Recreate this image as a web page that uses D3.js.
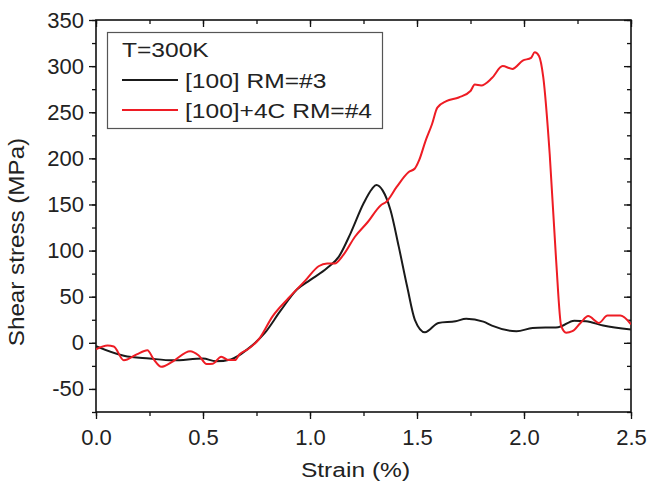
<!DOCTYPE html>
<html>
<head>
<meta charset="utf-8">
<script src="https://cdn.jsdelivr.net/npm/d3@7"></script>
<style>
  body { margin: 0; background: #fff; }
  svg { display: block; font-family: "Liberation Sans", Arial, sans-serif; }
</style>
</head>
<body>
<div id="chart"></div>
<script>
// strain (%) / shear stress (MPa)
var strainA = [0, 0.13, 0.25, 0.36, 0.5, 0.56, 0.63, 0.71, 0.79, 0.86, 0.94, 1.0, 1.08, 1.135, 1.19, 1.25, 1.29, 1.31, 1.34, 1.376, 1.415, 1.454, 1.49, 1.537, 1.6, 1.68, 1.73, 1.81, 1.85, 1.965, 2.04, 2.16, 2.235, 2.29, 2.37, 2.5];
var stressA = [-3.6, -14, -17, -19, -17, -20, -18, -6.5, 11, 34, 58, 68, 81, 93.5, 119, 151, 167, 171, 165, 144, 104, 61, 25, 11.5, 21.6, 23.4, 26, 23, 18.7, 12.6, 16, 17, 24, 23.4, 18.7, 14.4];

var strainB = [0, 0.054, 0.083, 0.13, 0.19, 0.24, 0.27, 0.305, 0.36, 0.44, 0.48, 0.517, 0.546, 0.585, 0.62, 0.65, 0.67, 0.71, 0.76, 0.826, 0.9, 0.98, 1.04, 1.08, 1.115, 1.155, 1.21, 1.27, 1.33, 1.357, 1.405, 1.46, 1.49, 1.51, 1.54, 1.57, 1.595, 1.637, 1.695, 1.75, 1.77, 1.80, 1.85, 1.90, 1.946, 1.994, 2.033, 2.05, 2.07, 2.09, 2.12, 2.15, 2.174, 2.197, 2.226, 2.264, 2.30, 2.35, 2.39, 2.45, 2.5];
var stressB = [-7, -3, -4, -19, -12.6, -8, -18, -26, -20, -9, -13.7, -23, -22.7, -15, -18.7, -18.7, -12.6, -7, 3.6, 29, 48.6, 68, 83, 86, 86, 95, 115, 131, 149, 153, 169, 185, 189, 198, 219, 237, 255, 262, 266, 273, 280, 279, 287, 300, 297, 306, 309, 315, 311, 288, 205, 90, 18, 11, 12.6, 21.6, 29, 21.6, 29.5, 29.5, 20];

var xTicks = [0, 0.5, 1.0, 1.5, 2.0, 2.5];
var yTicks = [-50, 0, 50, 100, 150, 200, 250, 300, 350];
var legendTitle = "T=300K";
var seriesNames = ["[100] RM=#3", "[100]+4C RM=#4"];
var seriesColors = ["#1a1a1a", "#ee1c24"];

var W = 648, H = 488;
var margin = {top: 20, right: 17, bottom: 76, left: 96};

var svg = d3.select("#chart").append("svg")
  .attr("width", W)
  .attr("height", H);

var x = d3.scaleLinear().domain([0, 2.5]).range([margin.left, W - margin.right]);
var y = d3.scaleLinear().domain([-75, 350]).range([H - margin.bottom, margin.top]);

var minorX = d3.range(0, 2.51, 0.25);
var minorY = d3.range(-75, 351, 25);

// axes: major + minor ticks, outside on left/bottom, inside on top/right
function drawAxis(axisFn, scale, major, minor, transform, outer, labels) {
  svg.append("g").attr("transform", transform)
    .call(axisFn(scale).tickValues(minor).tickSize(outer ? 4 : -4).tickFormat(""))
    .call(function(g) { g.select(".domain").remove(); });
  var g = svg.append("g").attr("transform", transform)
    .call(axisFn(scale).tickValues(major).tickSize(outer ? 7 : -7)
      .tickPadding(outer ? 5 : 0)
      .tickFormat(labels ? labels : ""));
  g.select(".domain").remove();
  g.selectAll("line").attr("stroke", "#111").attr("stroke-width", 1.3);
  g.selectAll("text").attr("font-size", 22).attr("fill", "#222");
  return g;
}

svg.selectAll("g").remove();
var bottomAxis = drawAxis(d3.axisBottom, x, xTicks, minorX, "translate(0," + y(-75) + ")", true, d3.format(".1f"));
bottomAxis.selectAll("text").attr("dy", "0.95em");
drawAxis(d3.axisTop, x, xTicks, minorX, "translate(0," + y(350) + ")", false, null);
drawAxis(d3.axisLeft, y, yTicks, minorY, "translate(" + x(0) + ",0)", true, function(d) { return d; });
drawAxis(d3.axisRight, y, yTicks, minorY, "translate(" + x(2.5) + ",0)", false, null);
svg.selectAll("g line").attr("stroke", "#111").attr("stroke-width", 1.3);

// frame
svg.append("rect")
  .attr("x", x(0)).attr("y", y(350))
  .attr("width", x(2.5) - x(0)).attr("height", y(-75) - y(350))
  .attr("fill", "none").attr("stroke", "#111").attr("stroke-width", 1.6);

// curves
var clip = svg.append("clipPath").attr("id", "plotclip").append("rect")
  .attr("x", x(0)).attr("y", y(350))
  .attr("width", x(2.5) - x(0)).attr("height", y(-75) - y(350));

var line = d3.line()
  .x(function(d) { return x(d[0]); })
  .y(function(d) { return y(d[1]); })
  .curve(d3.curveMonotoneX);

var seriesData = [d3.zip(strainA, stressA), d3.zip(strainB, stressB)];
seriesData.forEach(function(pts, i) {
  svg.append("path")
    .datum(pts)
    .attr("clip-path", "url(#plotclip)")
    .attr("fill", "none")
    .attr("stroke", seriesColors[i])
    .attr("stroke-width", 2)
    .attr("stroke-linejoin", "round")
    .attr("d", line);
});

// legend
var legend = svg.append("g");
legend.append("rect")
  .attr("x", 107.5).attr("y", 32.5)
  .attr("width", 275).attr("height", 96)
  .attr("fill", "#fff").attr("stroke", "#555").attr("stroke-width", 1.2);

function stretchedText(parent, str, tx, ty, size, sx) {
  return parent.append("text")
    .attr("transform", "translate(" + tx + "," + ty + ") scale(" + sx + ",1)")
    .attr("font-size", size)
    .attr("fill", "#222")
    .text(str);
}

stretchedText(legend, legendTitle, 122, 57, 21, 1.17);
seriesNames.forEach(function(name, i) {
  var ly = 80 + i * 30;
  legend.append("line")
    .attr("x1", 122).attr("x2", 178)
    .attr("y1", ly).attr("y2", ly)
    .attr("stroke", seriesColors[i]).attr("stroke-width", 2);
  stretchedText(legend, name, 185, ly + 8, 21, 1.17);
});

// axis titles
stretchedText(svg, "Strain (%)", 0, 477, 21, 1.17)
  .attr("text-anchor", "middle")
  .attr("transform", "translate(" + ((x(0) + x(2.5)) / 2 - 8) + ",477) scale(1.17,1)");

svg.append("text")
  .attr("transform", "translate(24," + 242 + ") rotate(-90) scale(1.1,1)")
  .attr("text-anchor", "middle")
  .attr("font-size", 22)
  .attr("fill", "#222")
  .text("Shear stress (MPa)");
</script>
</body>
</html>
